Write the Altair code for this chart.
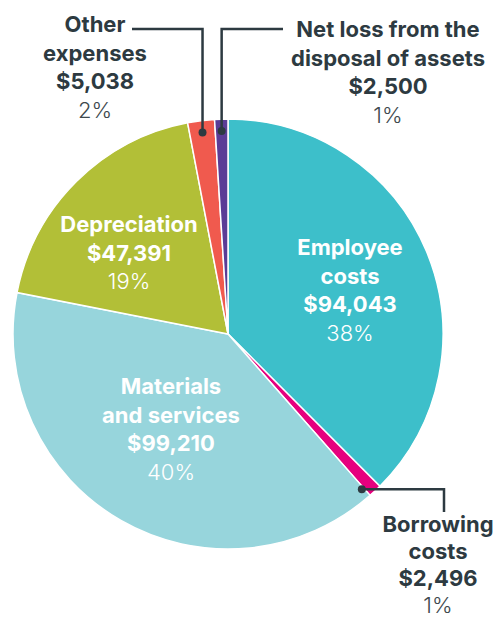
import math
import altair as alt
import pandas as pd

# ---- data ----
categories = ["Employee costs", "Borrowing costs", "Materials and services",
              "Depreciation", "Other expenses", "Net loss from the disposal of assets"]
values = [94043, 2496, 99210, 47391, 5038, 2500]
name_lines = [["Employee", "costs"], ["Borrowing", "costs"], ["Materials", "and services"],
              ["Depreciation"], ["Other", "expenses"], ["Net loss from the", "disposal of assets"]]
pct_labels = ["38%", "1%", "40%", "19%", "2%", "1%"]

# ---- style / layout ----
colors = ["#3dbfca", "#e6007e", "#97d5dc", "#b2bf37", "#f05a4e", "#5b3c96"]
W, H = 486, 612
CX, CY, R = 220, 326, 215
inside = [True, False, True, True, False, False]
# label block anchors (centre x, first-line y) in chart pixels
anchors = [(342, 240), (430, 517), (163, 379), (121, 217), (87, 17), (380, 22)]
gaps = [28.5, 27.0, 28.5, 28.5, 28.5, 28.5]
FONT = "Inter"
FS = 22
DARK = "#2d3a41"
PCT_DARK = "#3e494e"
# leader lines: (category index, angle nudge deg, dot radius, kind, elbow, end)
leaders = [(4, 0.0, 203, "up", 21, 124), (5, 0.0, 203, "up", 21, 275), (1, 2.4, 205, "side", 436, 504)]

total = sum(values)
starts = []
acc = 0
for v in values:
    starts.append(acc)
    acc += v
mid_deg = [(s + v / 2) / total * 360 for s, v in zip(starts, values)]

df = pd.DataFrame({"cat": categories, "value": values, "idx": list(range(len(values)))})

pie = alt.Chart(df).mark_arc(radius=R, stroke="white", strokeWidth=1.5).encode(
    theta=alt.Theta("value:Q", stack=True),
    color=alt.Color("cat:N", scale=alt.Scale(domain=categories, range=colors), legend=None),
    order=alt.Order("idx:Q"),
    x=alt.value(CX), y=alt.value(CY),
)

bold_rows, light_rows = [], []
for i, cat in enumerate(categories):
    ax, ay = anchors[i]
    g = gaps[i]
    lines = name_lines[i] + [f"${values[i]:,}"]
    col = "#ffffff" if inside[i] else DARK
    for k, t in enumerate(lines):
        bold_rows.append({"x": ax, "y": ay + k * g, "t": t, "c": col})
    light_rows.append({"x": ax, "y": ay + len(lines) * g, "t": pct_labels[i],
                       "c": "#ffffff" if inside[i] else PCT_DARK})

bold_txt = alt.Chart(pd.DataFrame(bold_rows)).mark_text(
    font=FONT, fontSize=FS, fontWeight="bold", baseline="middle", align="center"
).encode(x=alt.X("x:Q", scale=None), y=alt.Y("y:Q", scale=None), text="t:N",
         color=alt.Color("c:N", scale=None))
light_txt = alt.Chart(pd.DataFrame(light_rows)).mark_text(
    font=FONT, fontSize=FS, fontWeight=300, baseline="middle", align="center"
).encode(x=alt.X("x:Q", scale=None), y=alt.Y("y:Q", scale=None), text="t:N",
         color=alt.Color("c:N", scale=None))

line_rows, dot_rows = [], []
for j, (ci, nudge, rr, kind, elbow, end) in enumerate(leaders):
    a = math.radians(mid_deg[ci] + nudge)
    dx = CX + rr * math.sin(a)
    dy = CY - rr * math.cos(a)
    dot_rows.append({"x": dx, "y": dy})
    if kind == "up":
        pts = [(dx, dy), (dx, elbow), (end, elbow)]
    else:
        pts = [(dx, dy), (elbow, dy), (elbow, end)]
    for k, (px, py) in enumerate(pts):
        line_rows.append({"x": px, "y": py, "g": j, "o": k})

lines = alt.Chart(pd.DataFrame(line_rows)).mark_line(color=DARK, strokeWidth=2.5).encode(
    x=alt.X("x:Q", scale=None), y=alt.Y("y:Q", scale=None), detail="g:N", order="o:Q")
dots = alt.Chart(pd.DataFrame(dot_rows)).mark_circle(color=DARK, size=64, opacity=1).encode(
    x=alt.X("x:Q", scale=None), y=alt.Y("y:Q", scale=None))

chart = alt.layer(pie, lines, dots, bold_txt, light_txt).properties(
    width=W, height=H, padding=0, autosize=alt.AutoSizeParams(type="none")
).configure_view(stroke=None)

chart.save("out.html", embed_options={"renderer": "svg", "actions": False})
